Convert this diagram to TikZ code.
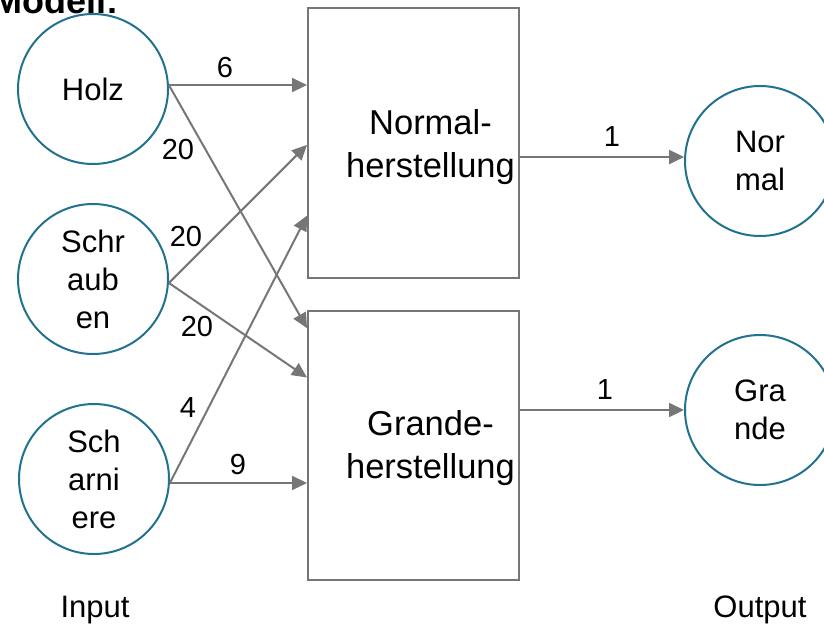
\documentclass[tikz,border=0pt]{standalone}
\usepackage{fontspec}
\setmainfont{Liberation Sans}
\usetikzlibrary{arrows.meta,calc}

\definecolor{flowgray}{RGB}{118,118,118}
\definecolor{stockblue}{RGB}{32,114,142}

\tikzset{
	stock/.style={circle, draw=stockblue, line width=2pt, minimum size=150pt, inner sep=0pt, align=center, font=\fontsize{31}{38}\selectfont},
	process/.style={rectangle, draw=flowgray, line width=2pt, minimum width=211pt, inner sep=0pt},
	proctext/.style={align=center, inner sep=0pt, font=\fontsize{34.5}{43}\selectfont},
	flow/.style={draw=flowgray, line width=2pt, -{Triangle[length=15pt,width=14pt]}},
	coeff/.style={inner sep=0pt, font=\fontsize{29}{30}\selectfont},
	side/.style={inner sep=0pt, font=\fontsize{31}{36}\selectfont},
}

\begin{document}
\begin{tikzpicture}[x=1pt,y=-1pt]
	\useasboundingbox (0,0) rectangle (824,627);
	\clip (0,0) rectangle (824,627);

	%Heading, runs off the top edge
	\node[anchor=base west, inner sep=0pt, font=\bfseries\fontsize{36}{40}\selectfont] (title) at (-8,13) {Modell:};

	%Input stocks
	\node[stock] (holz) at (93,89) {Holz};
	\node[stock] (schrauben) at (93,279) {Schr\\aub\\en};
	\node[stock] (scharniere) at (94,479) {Sch\\arni\\ere};

	%The two production boxes
	\node[process, minimum height=270pt] (normbox) at (413.5,143) {};
	\node[process, minimum height=269pt] (grandbox) at (413.5,445.5) {};
	\node[proctext] (normtext) at (430.5,147) {Normal-\\herstellung};
	\node[proctext] (grandtext) at (430.5,448) {Grande-\\herstellung};

	%Output stocks
	\node[stock] (normal) at (760,161) {Nor\\mal};
	\node[stock] (grande) at (760,410) {Gra\\nde};

	%Flows into Normalherstellung
	\draw[flow] (holz.3) -- (holz.3 -| normbox.west);
	\draw[flow] (schrauben.-3) -- ($(normbox.north west)!0.507!(normbox.south west)$);
	\draw[flow] (scharniere.-3) -- ($(normbox.north west)!0.767!(normbox.south west)$);

	%Flows into Grandeherstellung
	\draw[flow] (holz.3) -- ($(grandbox.north west)!0.067!(grandbox.south west)$);
	\draw[flow] (schrauben.-3) -- ($(grandbox.north west)!0.249!(grandbox.south west)$);
	\draw[flow] (scharniere.-3) -- (scharniere.-3 -| grandbox.west);

	%Flows out
	\draw[flow] (normal.177 -| normbox.east) -- (normal.177);
	\draw[flow] (grande.west -| grandbox.east) -- (grande.west);

	%Coefficients
	\node[coeff] (cholzn) at (225,68) {6};
	\node[coeff] (cholzg) at (178,150) {20};
	\node[coeff] (cschrn) at (186,237) {20};
	\node[coeff] (cschrg) at (197,327) {20};
	\node[coeff] (cscharn) at (188,408) {4};
	\node[coeff] (cscharg) at (238,465) {9};
	\node[coeff] (cnorm) at (612,137) {1};
	\node[coeff] (cgrand) at (605,390) {1};

	\node[side] (input) at (95,610) {Input};
	\node[side] (output) at (760,610) {Output};

\end{tikzpicture}
\end{document}
